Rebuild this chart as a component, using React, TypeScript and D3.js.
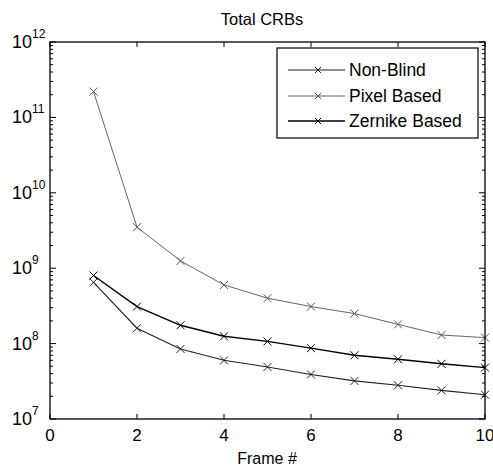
import React from "react";
import * as d3 from "d3";

const frames = [1, 2, 3, 4, 5, 6, 7, 8, 9, 10];
const nonBlind = [6.5e8, 1.6e8, 8.5e7, 6.0e7, 4.9e7, 3.9e7, 3.2e7, 2.8e7, 2.4e7, 2.1e7];
const pixelBased = [2.2e11, 3.5e9, 1.25e9, 6.0e8, 4.0e8, 3.1e8, 2.5e8, 1.8e8, 1.3e8, 1.2e8];
const zernikeBased = [8.0e8, 3.1e8, 1.75e8, 1.25e8, 1.07e8, 8.7e7, 7.0e7, 6.2e7, 5.4e7, 4.8e7];
const seriesNames = ["Non-Blind", "Pixel Based", "Zernike Based"];
const xTicks = [0, 2, 4, 6, 8, 10];
const yExponents = [7, 8, 9, 10, 11, 12];

const W = 493, H = 467;
const L = 50, R = 485, T = 42, B = 419;
const font = "Liberation Sans, Arial, sans-serif";

export default function App() {
  const x = d3.scaleLinear().domain([0, 10]).range([L, R]);
  const y = d3.scaleLog().domain([1e7, 1e12]).range([B, T]);
  const line = d3.line<number>().x((_, i) => x(frames[i])).y((v) => y(v));
  const series = [
    { name: seriesNames[0], data: nonBlind, color: "#222", width: 1.1 },
    { name: seriesNames[1], data: pixelBased, color: "#555", width: 0.9 },
    { name: seriesNames[2], data: zernikeBased, color: "#000", width: 1.4 },
  ];
  const minor: number[] = [];
  for (let e = 7; e < 12; e++) for (let m = 2; m <= 9; m++) minor.push(m * Math.pow(10, e));
  const mark = (cx: number, cy: number, k: string, c: string, r = 4) => (
    <g key={k} stroke={c} strokeWidth={1}>
      <line x1={cx - r} y1={cy - r} x2={cx + r} y2={cy + r} />
      <line x1={cx - r} y1={cy + r} x2={cx + r} y2={cy - r} />
    </g>
  );
  const legY = [70, 96, 121];
  return (
    <svg width={W} height={H} style={{ position: "absolute", left: 0, top: 0 }} fontFamily={font}>
      <rect width={W} height={H} fill="#fff" />
      <text x={262} y={25} textAnchor="middle" fontSize={16.5}>Total CRBs</text>
      {series.map((s, si) => (
        <g key={si}>
          <path d={line(s.data) || ""} fill="none" stroke={s.color} strokeWidth={s.width} />
          {s.data.map((v, i) => mark(x(frames[i]), y(v), `m${si}-${i}`, s.color))}
        </g>
      ))}
      <rect x={L} y={T} width={R - L} height={B - T} fill="none" stroke="#000" strokeWidth={1.3} />
      {xTicks.map((t) => (
        <g key={"x" + t}>
          <line x1={x(t)} x2={x(t)} y1={B} y2={B - 5} stroke="#000" />
          <line x1={x(t)} x2={x(t)} y1={T} y2={T + 5} stroke="#000" />
          <text x={x(t)} y={B + 22} textAnchor="middle" fontSize={17}>{t}</text>
        </g>
      ))}
      {yExponents.map((e) => (
        <g key={"y" + e}>
          <line x1={L} x2={L + 6} y1={y(Math.pow(10, e))} y2={y(Math.pow(10, e))} stroke="#000" />
          <line x1={R} x2={R - 6} y1={y(Math.pow(10, e))} y2={y(Math.pow(10, e))} stroke="#000" />
          <text x={12} y={y(Math.pow(10, e)) + 6} fontSize={18}>
            10<tspan dy={-10} fontSize={12}>{e}</tspan>
          </text>
        </g>
      ))}
      {minor.map((v, i) => (
        <g key={"mn" + i}>
          <line x1={L} x2={L + 3} y1={y(v)} y2={y(v)} stroke="#000" />
          <line x1={R} x2={R - 3} y1={y(v)} y2={y(v)} stroke="#000" />
        </g>
      ))}
      <text x={267} y={464} textAnchor="middle" fontSize={16}>Frame #</text>
      <rect x={277} y={48} width={201} height={90} fill="#fff" stroke="#000" strokeWidth={1.2} />
      {series.map((s, si) => (
        <g key={"lg" + si}>
          <line x1={288} x2={345} y1={legY[si]} y2={legY[si]} stroke={s.color} strokeWidth={s.width} />
          {mark(318, legY[si], "lm" + si, s.color, 3)}
          <text x={349} y={legY[si] + 6} fontSize={17.5}>{s.name}</text>
        </g>
      ))}
    </svg>
  );
}
